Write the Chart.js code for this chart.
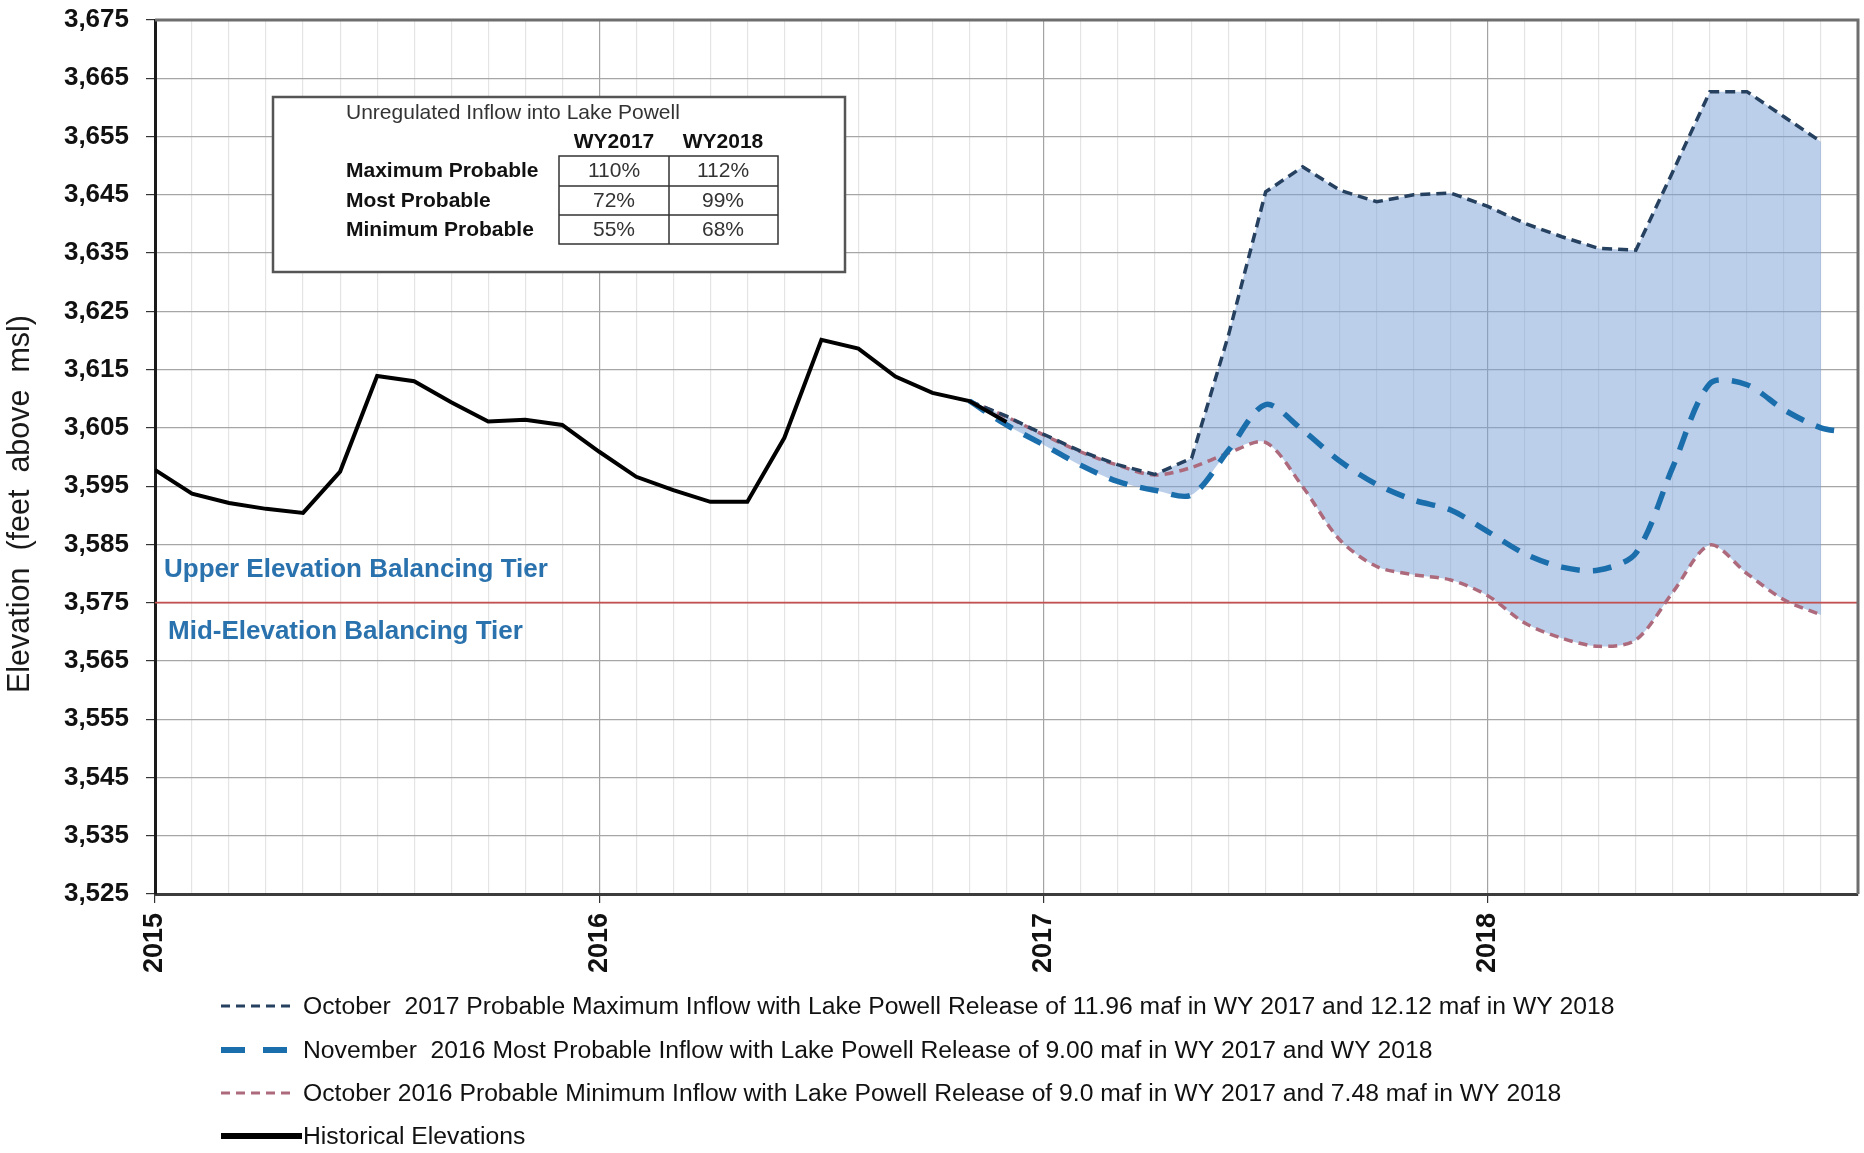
<!DOCTYPE html>
<html>
<head>
<meta charset="utf-8">
<script src="https://cdn.jsdelivr.net/npm/chart.js@4.4.1/dist/chart.umd.min.js"></script>
<style>
  body { margin: 0; background: #fff; }
  canvas { display: block; }
</style>
</head>
<body>
<canvas id="powell" width="1864" height="1153"></canvas>
<script>
// months counted from Jan 2015
const yearLabels = ['2015', '2016', '2017', '2018']

const histMonths = [0, 1, 2, 3, 4, 5, 6, 7, 8, 9, 10, 11, 12, 13, 14, 15, 16, 17, 18, 19, 20, 21, 22, 23]
const histElev = [3597.8, 3593.7, 3592.1, 3591.1, 3590.4, 3597.5, 3613.9, 3613.0, 3609.4, 3606.1, 3606.4, 3605.5,
  3600.9, 3596.6, 3594.3, 3592.3, 3592.3, 3603.3, 3620.1, 3618.6, 3613.8, 3611.0, 3609.6, 3606.0]

const projMonths = [22, 23, 24, 25, 26, 27, 28, 29, 30, 31, 32, 33, 34, 35, 36, 37, 38, 39, 40, 41, 42, 43, 44, 45]
const maxProb = [3609.6, 3607.0, 3603.9, 3601.0, 3598.7, 3597.0, 3599.8, 3621.0, 3645.5, 3649.8, 3645.8, 3643.8,
  3645.0, 3645.3, 3643.0, 3640.1, 3637.8, 3635.8, 3635.5, 3649.0, 3662.7, 3662.7, 3658.4, 3654.1]
const minProb = [3609.6, 3606.9, 3603.8, 3600.9, 3598.6, 3596.9, 3598.2, 3600.7, 3602.5, 3594.9, 3585.8, 3581.2,
  3579.8, 3578.9, 3576.2, 3571.5, 3568.9, 3567.5, 3568.6, 3576.8, 3584.9, 3580.0, 3575.5, 3572.9]

const mostMonths = [22, 23, 24, 25, 26, 27, 28, 29, 30, 31, 32, 33, 34, 35, 36, 37, 38, 39, 40, 41, 42, 43, 44, 45, 45.65]
const mostProb = [3609.6, 3605.5, 3602.1, 3598.6, 3595.8, 3594.3, 3593.5, 3601.2, 3609.0, 3604.6, 3599.3, 3595.3,
  3592.6, 3590.9, 3587.2, 3583.4, 3581.1, 3580.6, 3583.5, 3598.3, 3612.6, 3612.4, 3608.1, 3605.0, 3604.3]

const tierLevel = 3575
const tierNames = ['Upper Elevation Balancing Tier', 'Mid-Elevation Balancing Tier']

const tableTitle = 'Unregulated Inflow into Lake Powell'
const tableHeads = ['WY2017', 'WY2018']
const inflowRows = ['Maximum Probable', 'Most Probable', 'Minimum Probable']
const wy2017 = ['110%', '72%', '55%']
const wy2018 = ['112%', '99%', '68%']

const legendNames = [
  'October  2017 Probable Maximum Inflow with Lake Powell Release of 11.96 maf in WY 2017 and 12.12 maf in WY 2018',
  'November  2016 Most Probable Inflow with Lake Powell Release of 9.00 maf in WY 2017 and WY 2018',
  'October 2016 Probable Minimum Inflow with Lake Powell Release of 9.0 maf in WY 2017 and 7.48 maf in WY 2018',
  'Historical Elevations'
]

const FONT = '"Liberation Sans", Arial, sans-serif'
Chart.defaults.font.family = FONT

let pts = (xs, ys) => xs.map((x, i) => ({x: x, y: ys[i]}))
let lowEnvelope = projMonths.map((m, i) => ({x: m, y: Math.min(minProb[i], mostProb[i])}))

let datasets = [
  { // lower edge of the shaded band
    data: lowEnvelope, borderWidth: 0, pointRadius: 0, fill: false, tension: 0.3, order: 9
  },
  {
    label: legendNames[0], data: pts(projMonths, maxProb),
    borderColor: '#26405f', borderWidth: 3.5, borderDash: [10, 6], legendDash: [9, 6],
    pointRadius: 0, tension: 0, order: 3,
    fill: {target: 0}, backgroundColor: 'rgba(120,160,215,0.5)'
  },
  {
    label: legendNames[1], data: pts(mostMonths, mostProb),
    borderColor: '#1b6eac', borderWidth: 5.5, borderDash: [19, 13], legendDash: [24, 18],
    pointRadius: 0, tension: 0.3, fill: false, order: 2
  },
  {
    label: legendNames[2], data: pts(projMonths, minProb),
    borderColor: '#ad6a7c', borderWidth: 3.5, borderDash: [9, 6], legendDash: [9, 6],
    pointRadius: 0, tension: 0.3, fill: false, order: 4
  },
  {
    label: legendNames[3], data: pts(histMonths, histElev),
    borderColor: '#000', borderWidth: 4, legendDash: [],
    pointRadius: 0, tension: 0, fill: false, order: 1
  },
  { // tier boundary
    data: [{x: 0, y: tierLevel}, {x: 46, y: tierLevel}],
    borderColor: '#c4504f', borderWidth: 1.6, pointRadius: 0, fill: false, order: 8
  }
]

const extras = {
  id: 'extras',
  afterDraw(chart) {
    const ctx = chart.ctx
    const a = chart.chartArea
    const y = chart.scales.y
    ctx.save()

    // top / right frame
    ctx.strokeStyle = '#6e6e6e'
    ctx.lineWidth = 3
    ctx.beginPath()
    ctx.moveTo(a.left, a.top)
    ctx.lineTo(a.right, a.top)
    ctx.lineTo(a.right, a.bottom)
    ctx.stroke()

    // y title
    ctx.save()
    ctx.translate(21, 504)
    ctx.rotate(-Math.PI / 2)
    ctx.font = '30.5px ' + FONT
    ctx.fillStyle = '#1a1a1a'
    ctx.textAlign = 'center'
    ctx.textBaseline = 'middle'
    ctx.fillText('Elevation  (feet  above  msl)', 0, 0)
    ctx.restore()

    // tier names
    let ty = y.getPixelForValue(tierLevel)
    ctx.font = 'bold 26px ' + FONT
    ctx.fillStyle = '#2a72ad'
    ctx.textAlign = 'left'
    ctx.textBaseline = 'middle'
    ctx.fillText(tierNames[0], a.left + 9, ty - 33)
    ctx.fillText(tierNames[1], a.left + 13, ty + 29)

    // inflow table
    ctx.fillStyle = '#fff'
    ctx.fillRect(273, 97, 572, 175)
    ctx.strokeStyle = '#555'
    ctx.lineWidth = 2.5
    ctx.strokeRect(273, 97, 572, 175)

    ctx.fillStyle = '#333'
    ctx.font = '21px ' + FONT
    ctx.fillText(tableTitle, 346, 113)
    ctx.fillStyle = '#111'
    ctx.font = 'bold 21px ' + FONT
    ctx.textAlign = 'center'
    ctx.fillText(tableHeads[0], 614, 142)
    ctx.fillText(tableHeads[1], 723, 142)

    let rowY = [171, 201, 230]
    ctx.strokeStyle = '#333'
    ctx.lineWidth = 1.5
    ctx.strokeRect(559, 156, 219, 88)
    ctx.beginPath()
    ctx.moveTo(669, 156); ctx.lineTo(669, 244)
    ctx.moveTo(559, 186); ctx.lineTo(778, 186)
    ctx.moveTo(559, 215); ctx.lineTo(778, 215)
    ctx.stroke()
    for (let i = 0; i < inflowRows.length; i++) {
      ctx.font = 'bold 21px ' + FONT
      ctx.textAlign = 'left'
      ctx.fillStyle = '#111'
      ctx.fillText(inflowRows[i], 346, rowY[i])
      ctx.font = '21px ' + FONT
      ctx.textAlign = 'center'
      ctx.fillStyle = '#333'
      ctx.fillText(wy2017[i], 614, rowY[i])
      ctx.fillText(wy2018[i], 723, rowY[i])
    }

    // legend
    let legendY = [1006, 1050, 1093, 1136]
    let sets = [1, 2, 3, 4]
    ctx.font = '24.7px ' + FONT
    ctx.textAlign = 'left'
    for (let i = 0; i < sets.length; i++) {
      let ds = chart.data.datasets[sets[i]]
      ctx.strokeStyle = ds.borderColor
      ctx.lineWidth = i == 3 ? 6 : (i == 1 ? 6 : 3)
      ctx.setLineDash(ds.legendDash)
      ctx.beginPath()
      ctx.moveTo(221, legendY[i])
      ctx.lineTo(i == 3 ? 302 : 295, legendY[i])
      ctx.stroke()
      ctx.setLineDash([])
      ctx.fillStyle = '#111'
      ctx.fillText(ds.label, 303, legendY[i] + 1)
    }
    ctx.restore()
  }
}

new Chart(document.getElementById('powell'), {
  type: 'line',
  data: { datasets: datasets },
  options: {
    responsive: false,
    devicePixelRatio: 1,
    animation: false,
    layout: { padding: { top: 20, right: 6, bottom: 0, left: 0 } },
    plugins: {
      legend: { display: false },
      tooltip: { enabled: false },
      filler: { drawTime: 'beforeDatasetsDraw' }
    },
    scales: {
      x: {
        type: 'linear', min: 0, max: 46,
        afterFit: s => { s.height = 259; s.paddingLeft = 0; s.paddingRight = 0 },
        ticks: {
          stepSize: 1, autoSkip: false, minRotation: 90, maxRotation: 90, padding: 10,
          color: '#111', font: { size: 27, weight: 'bold' },
          callback: v => (v % 12 === 0 ? yearLabels[v / 12] : '')
        },
        grid: {
          color: c => (c.tick && c.tick.value % 12 === 0 ? '#a3a3a3' : '#e4e4e4'),
          tickColor: c => (c.tick && c.tick.value % 12 === 0 ? '#333' : 'rgba(0,0,0,0)'),
          tickLength: 9, lineWidth: 1.2
        },
        border: { color: '#3c3c3c', width: 3 }
      },
      y: {
        min: 3525, max: 3675,
        afterFit: s => { s.width = 155; s.paddingTop = 0; s.paddingBottom = 0 },
        ticks: {
          stepSize: 10, padding: 17, color: '#111', font: { size: 26, weight: 'bold' },
          callback: v => v.toLocaleString('en-US')
        },
        grid: { color: '#a6a6a6', lineWidth: 1.2, tickLength: 9, tickColor: '#333' },
        border: { color: '#1a1a1a', width: 3 }
      }
    }
  },
  plugins: [extras]
})
</script>
</body>
</html>
